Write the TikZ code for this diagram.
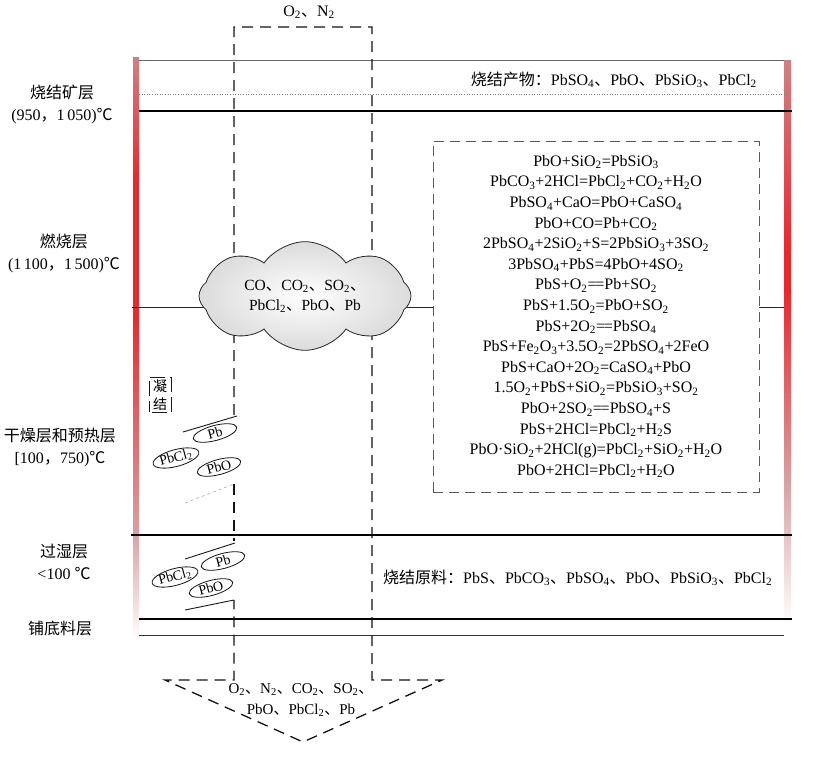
\documentclass[tikz,border=0pt]{standalone}
\usepackage{fontspec}
\setmainfont{Liberation Serif}
\newfontfamily\cjk{Noto Sans CJK SC}
\usetikzlibrary{shapes.geometric,shapes.symbols}
\newcommand{\zh}[1]{{\cjk #1}}
\newcommand{\dn}[1]{\textsubscript{#1}}
\newcommand{\dunhao}{\zh{、}}
\newcommand{\eqq}{=\kern-1.2pt=}
\definecolor{barpink}{RGB}{208,128,132}
\definecolor{barred}{RGB}{232,40,44}
\definecolor{barlight}{RGB}{216,158,160}
\begin{document}
\begin{tikzpicture}[x=1pt,y=-1pt,
  layer/.style={font=\fontsize{16}{22}\selectfont, align=center},
  label/.style={font=\fontsize{16}{20}\selectfont, inner sep=0pt},
  gas/.style={gray!15!black, line width=1.3pt, dash pattern=on 11pt off 7pt},
  wall/.style={gray!20!black, line width=0.9pt},
  molecule/.style={ellipse, draw=gray!15!black, thick, rotate=15, inner sep=0pt,
    minimum width=45pt, minimum height=15pt, font=\fontsize{14}{14}\selectfont}]
  \useasboundingbox (0,0) rectangle (819,756);
  % temperature bars
  \shade[top color=barpink, bottom color=barred] (133,57) rectangle (139,180);
  \fill[barred] (133,180) rectangle (139,310);
  \shade[top color=barred, bottom color=barlight] (133,310) rectangle (139,530);
  \shade[top color=barlight, bottom color=white] (133,530) rectangle (139,640);
  \shade[top color=barpink, bottom color=barred] (784,60) rectangle (791,250);
  \fill[barred] (784,250) rectangle (791,290);
  \shade[top color=barred, bottom color=barlight] (784,290) rectangle (791,480);
  \shade[top color=barlight, bottom color=white] (784,480) rectangle (791,625);
  % layer borders
  \draw[gray!80!black, line width=0.8pt] (139,60) -- (784,60);
  \draw[gray, dotted, line width=0.6pt] (139,94) -- (784,94);
  \draw[black, line width=1.3pt] (139,111) -- (792,111);
  \draw[gray!30!black, line width=1pt] (132,307) -- (784,307);
  \draw[black, line width=1.3pt] (131,535) -- (792,535);
  \draw[black, line width=1.3pt] (139,619) -- (792,619);
  \draw[gray!40!black, line width=0.9pt] (139,635) -- (784,635);
  % gas path
  \coordinate (inL) at (234,27);
  \coordinate (inR) at (372,27);
  \coordinate (dryTop) at (234,415);
  \coordinate (dryBot) at (234,484);
  \coordinate (wetTop) at (234,541);
  \coordinate (wetBot) at (234,600);
  \coordinate (outL) at (234,680);
  \coordinate (outR) at (372,680);
  \coordinate (wingL) at (165,680);
  \coordinate (wingR) at (442,680);
  \coordinate (tip) at (303,742);
  \draw[gas] (dryTop) -- (inL) -- (inR) -- (outR) -- (wingR) -- (tip) -- (wingL) -- (outL) -- (wetBot);
  \draw[gas] (dryBot) -- (wetTop);
  % condensation walls
  \draw[wall] (183,432) -- (237,416);
  \draw[gray!60, dashed, line width=0.7pt] (185,503) -- (dryBot);
  \draw[wall] (185,559) -- (235,543);
  \draw[wall] (185,610) -- (wetBot);
  % burning zone gases
  \node[cloud, cloud puffs=8, cloud puff arc=110, aspect=2.3, draw=gray!30!black, thick,
    inner color=white, outer color=gray!28, minimum width=212pt, minimum height=97pt,
    font=\fontsize{15.5}{20}\selectfont, align=center] (burn) at (305,296)
    {CO\dunhao CO\dn{2}\dunhao SO\dn{2}\dunhao\\PbCl\dn{2}\dunhao PbO\dunhao Pb};
  % reactions
  \node[draw=gray!70!black, line width=1pt, dash pattern=on 10pt off 6pt, fill=white,
    minimum width=326pt, minimum height=351pt, align=center,
    font=\fontsize{16}{20.6}\selectfont] (eqs) at (596,316.5) {%
    PbO+SiO\dn{2}=PbSiO\dn{3}\\
    PbCO\dn{3}+2HCl=PbCl\dn{2}+CO\dn{2}+H\dn{2}O\\
    PbSO\dn{4}+CaO=PbO+CaSO\dn{4}\\
    PbO+CO=Pb+CO\dn{2}\\
    2PbSO\dn{4}+2SiO\dn{2}+S=2PbSiO\dn{3}+3SO\dn{2}\\
    3PbSO\dn{4}+PbS=4PbO+4SO\dn{2}\\
    PbS+O\dn{2}\eqq Pb+SO\dn{2}\\
    PbS+1.5O\dn{2}=PbO+SO\dn{2}\\
    PbS+2O\dn{2}\eqq PbSO\dn{4}\\
    PbS+Fe\dn{2}O\dn{3}+3.5O\dn{2}=2PbSO\dn{4}+2FeO\\
    PbS+CaO+2O\dn{2}=CaSO\dn{4}+PbO\\
    1.5O\dn{2}+PbS+SiO\dn{2}=PbSiO\dn{3}+SO\dn{2}\\
    PbO+2SO\dn{2}\eqq PbSO\dn{4}+S\\
    PbS+2HCl=PbCl\dn{2}+H\dn{2}S\\
    PbO·SiO\dn{2}+2HCl(g)=PbCl\dn{2}+SiO\dn{2}+H\dn{2}O\\
    PbO+2HCl=PbCl\dn{2}+H\dn{2}O};
  % layer names
  \node[layer] (sinter) at (62,104) {\zh{烧结矿层}\\(950\zh{，}1\,050)\zh{℃}};
  \node[layer] (burning) at (64,253) {\zh{燃烧层}\\(1\,100\zh{，}1\,500)\zh{℃}};
  \node[layer] (drying) at (60,447) {\zh{干燥层和预热层}\\{[}100\zh{，}750)\zh{℃}};
  \node[layer] (wet) at (64,562) {\zh{过湿层}\\<100 \zh{℃}};
  \node[layer] (bedding) at (60,628) {\zh{铺底料层}};
  % materials
  \node[label] (air) at (309,12) {O\dn{2}\dunhao N\dn{2}};
  \node[label, anchor=east] (product) at (757,80)
    {\zh{烧结产物：}PbSO\dn{4}\dunhao PbO\dunhao PbSiO\dn{3}\dunhao PbCl\dn{2}};
  \node[label, anchor=west] (raw) at (383,578)
    {\zh{烧结原料：}PbS\dunhao PbCO\dn{3}\dunhao PbSO\dn{4}\dunhao PbO\dunhao PbSiO\dn{3}\dunhao PbCl\dn{2}};
  \node[label, font=\fontsize{15}{21}\selectfont, align=center] (exhaust) at (301,700)
    {O\dn{2}\dunhao N\dn{2}\dunhao CO\dn{2}\dunhao SO\dn{2}\dunhao\\PbO\dunhao PbCl\dn{2}\dunhao Pb};
  % condensation
  \node[draw=gray!20!black, dash pattern=on 15pt off 5pt, dash phase=-2.5pt,
    inner xsep=4pt, inner ysep=2pt,
    font=\fontsize{14}{18}\selectfont, align=center] (condense) at (160,395) {\zh{凝}\\\zh{结}};
  \node[molecule] (pbDry) at (215,433) {Pb};
  \node[molecule] (clDry) at (176,458) {PbCl\dn{2}};
  \node[molecule] (oDry) at (219,467) {PbO};
  \node[molecule] (pbWet) at (223,561) {Pb};
  \node[molecule] (clWet) at (175,577) {PbCl\dn{2}};
  \node[molecule] (oWet) at (211,588) {PbO};
\end{tikzpicture}
\end{document}
